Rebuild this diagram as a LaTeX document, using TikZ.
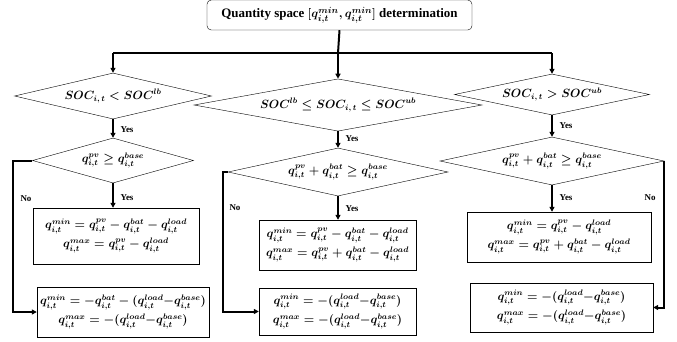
\documentclass[tikz,border=0pt]{standalone}
\usepackage{fontspec}
\setmainfont{Liberation Serif}
\usetikzlibrary{arrows.meta, shapes.geometric}
\newcommand{\qit}[1]{q^{#1}_{i,t}}

\begin{document}
\begin{tikzpicture}[x=1bp, y=-1bp,
      decision/.style={draw, diamond, inner sep=0pt, aspect=4, font=\fontsize{12}{14}\selectfont\boldmath},
      result/.style={draw, align=center, inner sep=0pt, font=\fontsize{12}{14}\selectfont\boldmath},
      flow/.style={line width=2pt, -{Triangle[length=5pt, width=5pt]}},
      tag/.style={font=\fontsize{9}{10}\selectfont\bfseries, anchor=west}
    ]
      \useasboundingbox (0,0) rectangle (677,341);
      \node[draw, rounded corners=1.5mm, minimum width=265bp, minimum height=30bp, font=\fontsize{13}{15}\selectfont\bfseries\boldmath] (top) at (339.5,15) {Quantity space $[\qit{min}, \qit{min}]$ determination};
      \coordinate (split) at (338,53);
      % first level
      \node[decision, minimum width=197bp, minimum height=46bp] (low) at (113,96) {$SOC_{i,\,t} < SOC^{lb}$};
      \node[decision, minimum width=288bp, minimum height=44bp] (mid) at (338,105) {$SOC^{lb} \leq SOC_{i,\,t} \leq SOC^{ub}$};
      \node[decision, minimum width=195bp, minimum height=41bp] (high) at (552,94.5) {$SOC_{i,\,t} > SOC^{ub}$};
      % second level
      \node[decision, minimum width=161bp, minimum height=45bp] (lowchk) at (113,160.5) {$\qit{pv} \geq \qit{base}$};
      \node[decision, minimum width=220bp, minimum height=48bp] (midchk) at (338,172) {$\qit{pv} + \qit{bat} \geq \qit{base}$};
      \node[decision, minimum width=224bp, minimum height=48bp] (highchk) at (552,161) {$\qit{pv} + \qit{bat} \geq \qit{base}$};
      % results
      \node[result, minimum width=166bp, minimum height=56bp] (lowyes) at (116,236) {$\qit{min} = \qit{pv} - \qit{bat} - \qit{load}$\\[3pt]$\qit{max} = \qit{pv} - \qit{load}$};
      \node[result, minimum width=172bp, minimum height=50bp] (lowno) at (123,312) {$\qit{min} = -\qit{bat} - (\qit{load}{-}\qit{base})$\\[3pt]$\qit{max} = -(\qit{load}{-}\qit{base})$};
      \node[result, minimum width=157bp, minimum height=50bp] (midyes) at (337.5,245) {$\qit{min} = \qit{pv} - \qit{bat} - \qit{load}$\\[3pt]$\qit{max} = \qit{pv} + \qit{bat} - \qit{load}$};
      \node[result, minimum width=157bp, minimum height=47bp] (midno) at (337.5,311.5) {$\qit{min} = -(\qit{load}{-}\qit{base})$\\[3pt]$\qit{max} = -(\qit{load}{-}\qit{base})$};
      \node[result, minimum width=184bp, minimum height=50bp] (highyes) at (559,237) {$\qit{min} = \qit{pv} - \qit{load}$\\[3pt]$\qit{max} = \qit{pv} + \qit{bat} - \qit{load}$};
      \node[result, minimum width=183bp, minimum height=49bp] (highno) at (561.5,307.5) {$\qit{min} = -(\qit{load}{-}\qit{base})$\\[3pt]$\qit{max} = -(\qit{load}{-}\qit{base})$};
      % connectors
      \draw[line width=2pt] (top.south) -- (split);
      \draw[line width=2pt] (low.north |- split) -- (high.north |- split);
      \draw[flow] (low.north |- split) -- (low.north);
      \draw[flow] (split) -- (mid.north);
      \draw[flow] (high.north |- split) -- (high.north);
      \draw[flow] (low.south) -- (lowchk.north);
      \draw[flow] (mid.south) -- (midchk.north);
      \draw[flow] (high.south) -- (highchk.north);
      \draw[flow] (lowchk.south) -- (lowchk.south |- lowyes.north);
      \draw[flow] (midchk.south) -- (midchk.south |- midyes.north);
      \draw[flow] (highchk.south) -- (highchk.south |- highyes.north);
      \draw[flow] (lowchk.west) -- ++(-19,0) |- (lowno.west);
      \draw[flow] (midchk.west) -- ++(-5,0) |- (midno.west);
      \draw[flow] (highchk.east) |- (highno.east);
      % labels
      \node[tag] (y1) at (117,130) {Yes};
      \node[tag] (y2) at (117,198) {Yes};
      \node[tag] (y3) at (342,139) {Yes};
      \node[tag] (y4) at (342,209) {Yes};
      \node[tag] (y5) at (556,126) {Yes};
      \node[tag] (y6) at (556,198) {Yes};
      \node[tag] (n1) at (17,199) {No};
      \node[tag] (n2) at (226,208) {No};
      \node[tag] (n3) at (641,198) {No};
    \end{tikzpicture}
\end{document}
